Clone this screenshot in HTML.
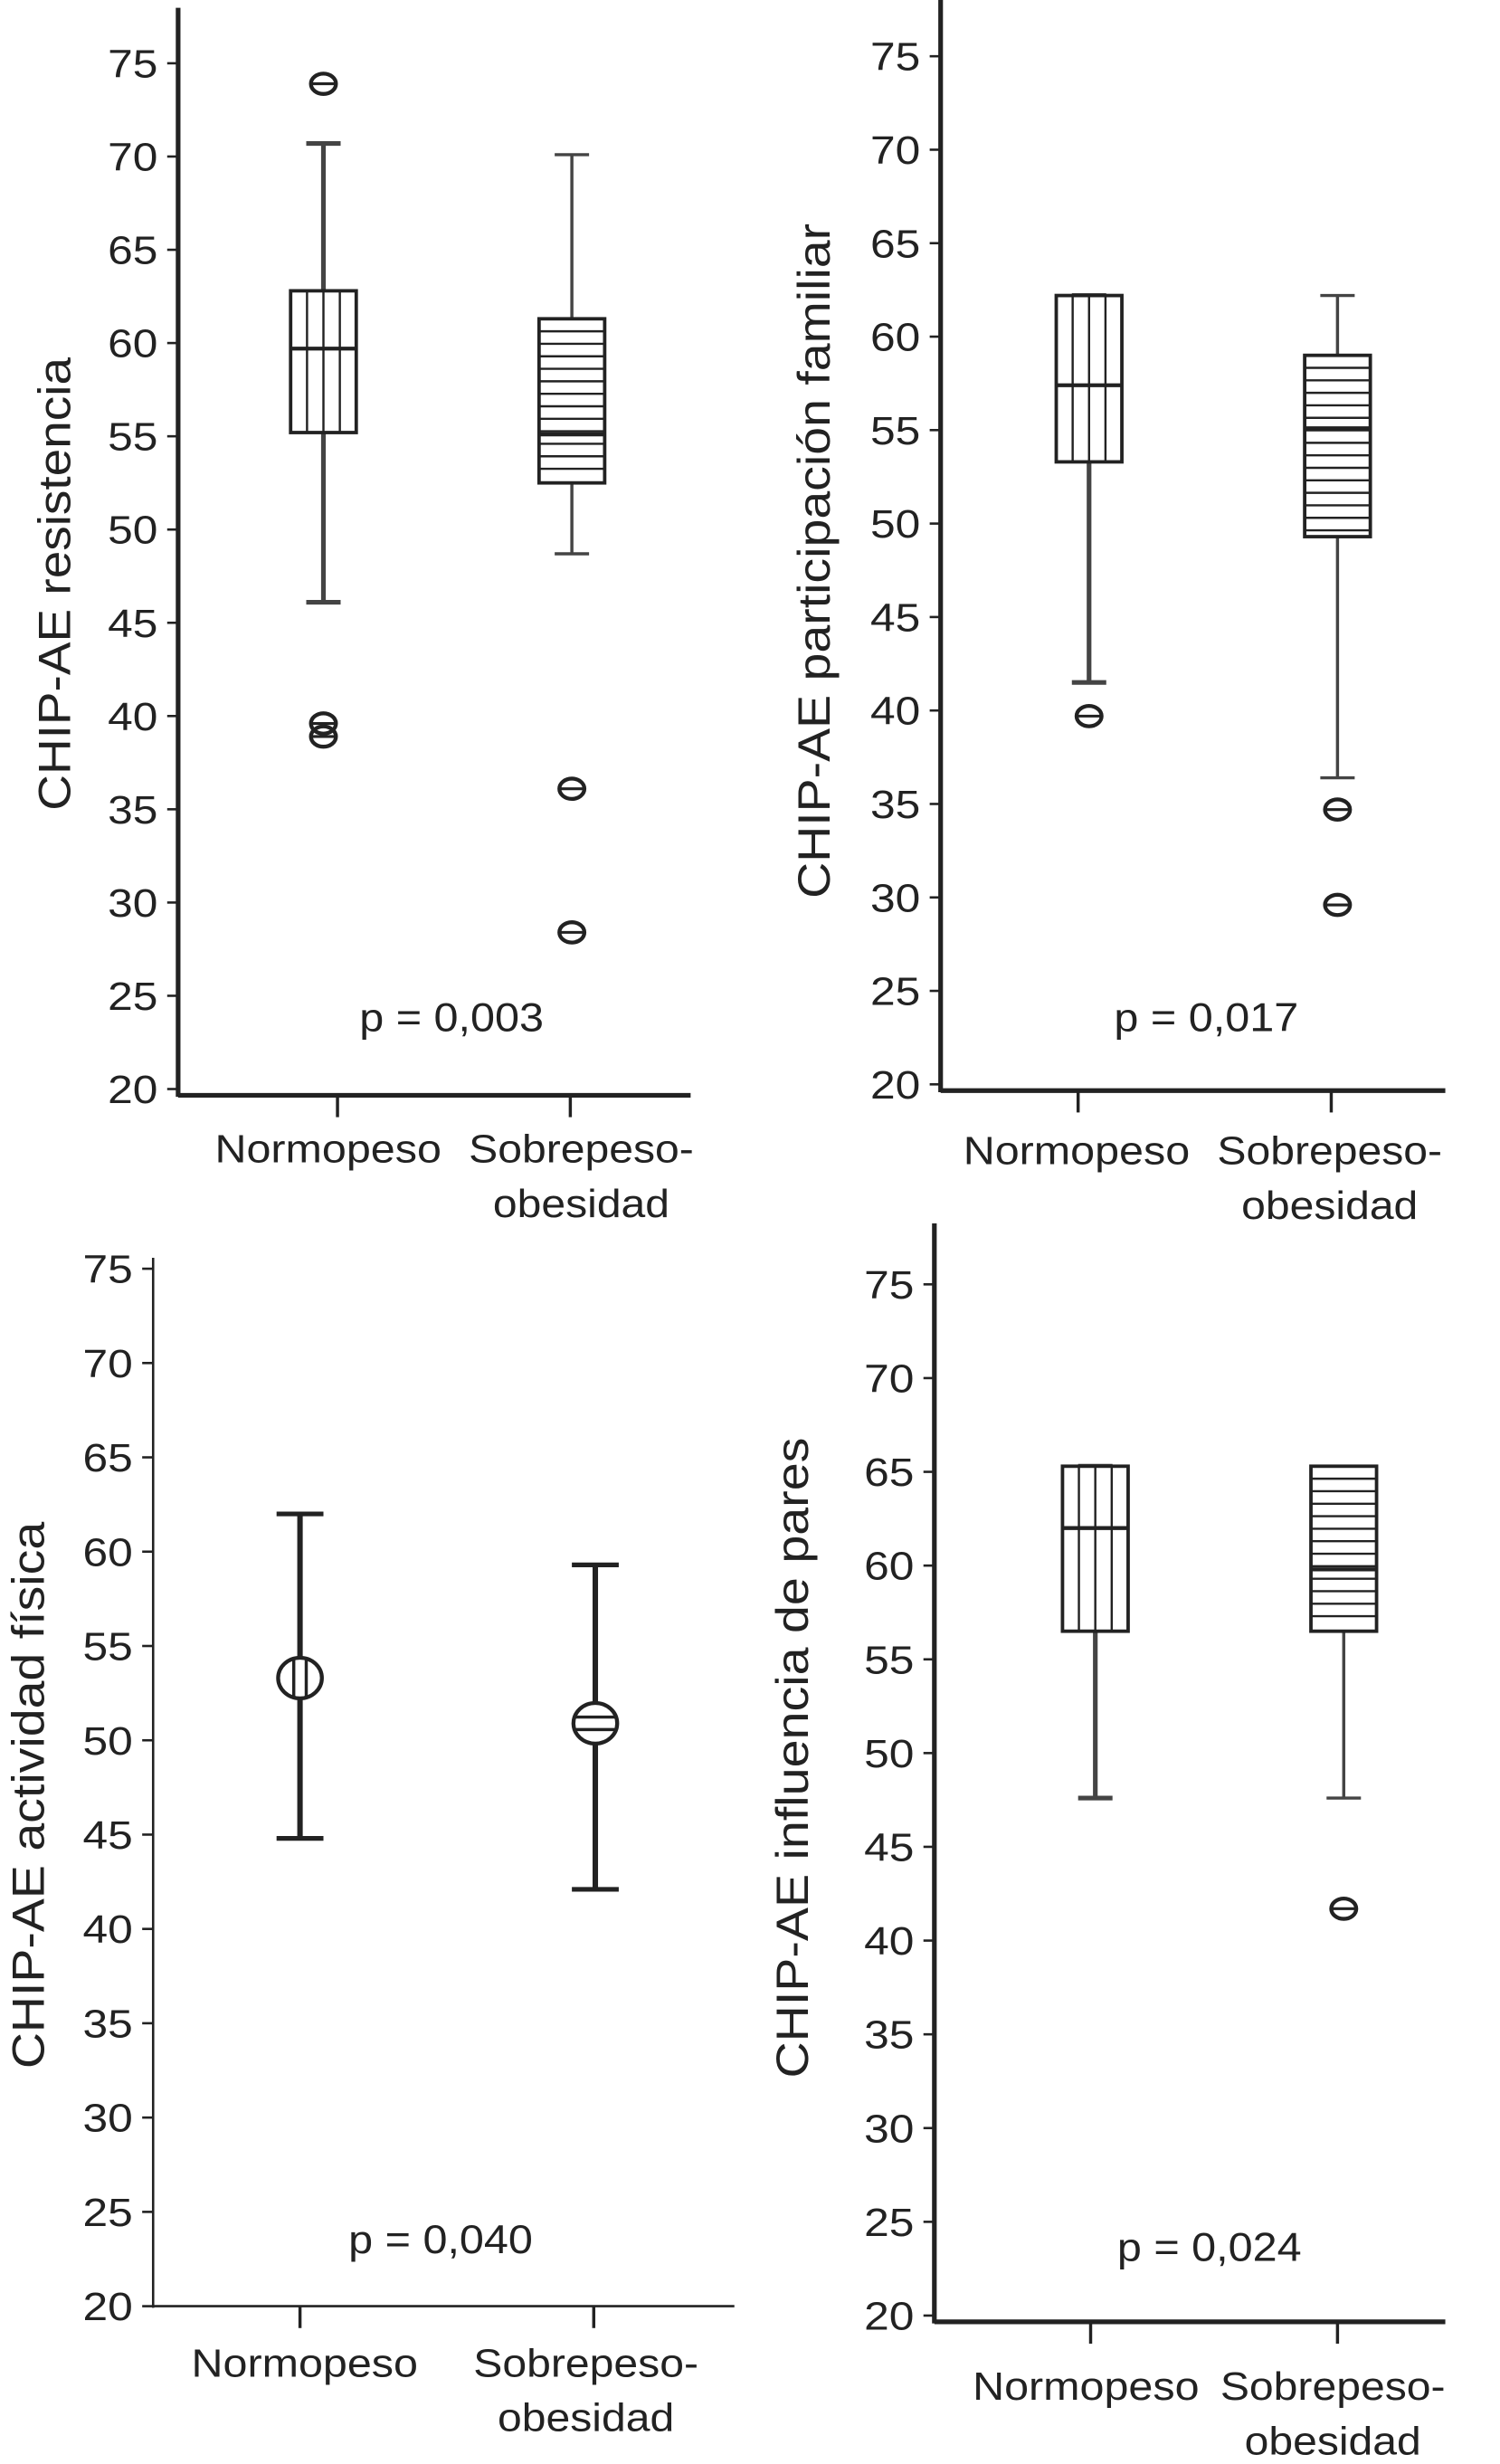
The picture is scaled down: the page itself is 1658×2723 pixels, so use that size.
<!DOCTYPE html>
<html><head><meta charset="utf-8"><style>
html,body{margin:0;padding:0;background:#fff;}
svg{display:block;}
text{font-family:"Liberation Sans",sans-serif;fill:#222;}
</style></head><body>
<svg id="fig" width="1658" height="2723" viewBox="0 0 960 1577" preserveAspectRatio="none" xmlns="http://www.w3.org/2000/svg"></svg>
<script>
const categories = ["Normopeso", "Sobrepeso-obesidad"];
const tickValues = [20,25,30,35,40,45,50,55,60,65,70,75];
// panel 1 resistencia (box: whiskerLow, q1, median, q3, whiskerHigh)
const resistBox1 = [46.1, 55.2, 59.7, 62.8, 70.7];
const resistBox2 = [48.7, 52.5, 55.1, 61.3, 70.1];
const resistOut1 = [73.9, 39.6, 38.9];
const resistOut2 = [36.1, 28.4];
// panel 2 participacion familiar
const famBox1 = [41.5, 53.3, 57.4, 62.2, 62.2];
const famBox2 = [36.4, 49.3, 55.1, 59.0, 62.2];
const famOut1 = [39.7];
const famOut2 = [34.7, 29.6];
// panel 3 actividad fisica (low, mean, high)
const actErr1 = [44.8, 53.3, 62.0];
const actErr2 = [42.1, 50.9, 59.3];
// panel 4 influencia de pares
const paresBox1 = [47.6, 56.5, 62.0, 65.3, 65.3];
const paresBox2 = [47.6, 56.5, 59.8, 65.3, 65.3];
const paresOut1 = [];
const paresOut2 = [41.7];
const pValues = ["p = 0,003", "p = 0,017", "p = 0,040", "p = 0,024"];
const yTitles = ["CHIP-AE resistencia", "CHIP-AE participación familiar", "CHIP-AE actividad física", "CHIP-AE influencia de pares"];

const NS = "http://www.w3.org/2000/svg";
const svg = document.getElementById('fig');
function mk(tag, attrs, parent){
  const e = document.createElementNS(NS, tag);
  for (const k in attrs) e.setAttribute(k, attrs[k]);
  (parent||svg).appendChild(e);
  return e;
}

const panels = [
  {ax:114, top:5, xEnd:442, y75:40.5, y20:697, axOff:4, cx:[207,366], tx:[216,365], lx:[210,372], titleX:35, titleLen:290, titleOff:5, pX:289, pY:660, lblY:744, type:'box', boxes:[resistBox1,resistBox2], outs:[resistOut1,resistOut2], sw:3},
  {ax:602, top:0, xEnd:925, y75:36, y20:694, axOff:4, cx:[697,856], tx:[690,852], lx:[689,851], titleX:521, titleLen:432, titleOff:-6, pX:772, pY:660, lblY:745, type:'box', boxes:[famBox1,famBox2], outs:[famOut1,famOut2], sw:3},
  {ax:98, top:805, xEnd:470, y75:812, y20:1476, axOff:0, cx:[192,381], tx:[192,380], lx:[195,375], titleX:18, titleLen:350, titleOff:5, pX:282, pY:1442, lblY:1521, type:'err', errs:[actErr1,actErr2], sw:1.5},
  {ax:598, top:783, xEnd:925, y75:822, y20:1482, axOff:4, cx:[701,860], tx:[698,856], lx:[695,853], titleX:507, titleLen:410, titleOff:-27, pX:774, pY:1447, lblY:1536, type:'box', boxes:[paresBox1,paresBox2], outs:[paresOut1,paresOut2], sw:3}
];

panels.forEach((p, pi) => {
  const g = mk('g', {});
  
  
  const y = v => p.y20 + (v - 20) * (p.y75 - p.y20) / 55;
  const xy = p.y20 + p.axOff;
  const yAxis = mk('line', {x1:p.ax, y1:p.top, x2:p.ax, y2:xy+1, stroke:'#222', 'stroke-width':p.sw}, g);
  
  
  const xAxis = mk('line', {x1:p.ax, y1:xy, x2:p.xEnd, y2:xy, stroke:'#222', 'stroke-width':p.sw}, g);
  
  
  tickValues.forEach(v => {
    mk('line', {x1:p.ax-7, y1:y(v), x2:p.ax, y2:y(v), stroke:'#222', 'stroke-width':1.5}, g);
    const t = mk('text', {x:p.ax-13, y:y(v)+9, 'text-anchor':'end', 'font-size':25, textLength:32, lengthAdjust:'spacingAndGlyphs'}, g);
    t.textContent = v;
    
    
  });
  const title = mk('text', {x:0, y:0, transform:`translate(${p.titleX+10},${(p.y75+p.y20)/2 + p.titleOff}) rotate(-90)`, 'text-anchor':'middle', 'font-size':29, textLength:p.titleLen, lengthAdjust:'spacingAndGlyphs'}, g);
  title.textContent = yTitles[pi];
  
  
  p.cx.forEach((cx, ci) => {
    const tx = p.tx[ci];
    const lx = p.lx[ci];
    mk('line', {x1:tx, y1:xy, x2:tx, y2:xy+14, stroke:'#222', 'stroke-width':2}, g);
    if (ci === 0) {
      const l = mk('text', {x:lx, y:p.lblY, 'text-anchor':'middle', 'font-size':25, textLength:145, lengthAdjust:'spacingAndGlyphs'}, g);
      l.textContent = categories[0];
      
      
    } else {
      const l = mk('text', {x:lx, y:p.lblY, 'text-anchor':'middle', 'font-size':25, textLength:144, lengthAdjust:'spacingAndGlyphs'}, g);
      l.textContent = 'Sobrepeso-';
      
      
      const l2 = mk('text', {x:lx, y:p.lblY+35, 'text-anchor':'middle', 'font-size':25, textLength:113, lengthAdjust:'spacingAndGlyphs'}, g);
      l2.textContent = 'obesidad';
      
      
    }
    if (p.type === 'box') {
      const b = p.boxes[ci];
      const hw = 21;
      const stroke = ci===0 ? 3 : 2;
      mk('line', {x1:cx, y1:y(b[0]), x2:cx, y2:y(b[1]), stroke:'#444', 'stroke-width':stroke}, g);
      mk('line', {x1:cx, y1:y(b[3]), x2:cx, y2:y(b[4]), stroke:'#444', 'stroke-width':stroke}, g);
      mk('line', {x1:cx-11, y1:y(b[0]), x2:cx+11, y2:y(b[0]), stroke:'#444', 'stroke-width':stroke}, g);
      mk('line', {x1:cx-11, y1:y(b[4]), x2:cx+11, y2:y(b[4]), stroke:'#444', 'stroke-width':stroke}, g);
      const rect = mk('rect', {x:cx-hw, y:y(b[3]), width:2*hw, height:y(b[1])-y(b[3]), fill:'#fff', stroke:'#222', 'stroke-width':2.2}, g);
      
      
      if (ci === 0) {
        [-10.5, 0, 10.5].forEach(dx => mk('line', {x1:cx+dx, y1:y(b[3]), x2:cx+dx, y2:y(b[1]), stroke:'#222', 'stroke-width':1.4}, g));
      } else {
        for (let yy = y(b[3]) + 8; yy < y(b[1]) - 3; yy += 8)
          mk('line', {x1:cx-hw, y1:yy, x2:cx+hw, y2:yy, stroke:'#222', 'stroke-width':1.4}, g);
      }
      const med = mk('line', {x1:cx-hw, y1:y(b[2]), x2:cx+hw, y2:y(b[2]), stroke:'#222', 'stroke-width':2.5}, g);
      
      
      p.outs[ci].forEach(v => {
        const o = mk('ellipse', {cx:cx, cy:y(v), rx:8, ry:6.5, fill:'none', stroke:'#222', 'stroke-width':2.5}, g);
        
        
        mk('line', {x1:cx-7, y1:y(v), x2:cx+7, y2:y(v), stroke:'#222', 'stroke-width':1.8}, g);
      });
    } else {
      const e = p.errs[ci];
      mk('line', {x1:cx, y1:y(e[0]), x2:cx, y2:y(e[2]), stroke:'#222', 'stroke-width':3.5}, g);
      mk('line', {x1:cx-15, y1:y(e[0]), x2:cx+15, y2:y(e[0]), stroke:'#222', 'stroke-width':3}, g);
      mk('line', {x1:cx-15, y1:y(e[2]), x2:cx+15, y2:y(e[2]), stroke:'#222', 'stroke-width':3}, g);
      const c = mk('ellipse', {cx:cx, cy:y(e[1]), rx:14, ry:13, fill:'#fff', stroke:'#222', 'stroke-width':2.5}, g);
      
      
      if (ci === 0) {
        [-4, 4].forEach(dx => mk('line', {x1:cx+dx, y1:y(e[1])-12, x2:cx+dx, y2:y(e[1])+12, stroke:'#222', 'stroke-width':2}, g));
      } else {
        [-4, 4].forEach(dy => mk('line', {x1:cx-13, y1:y(e[1])+dy, x2:cx+13, y2:y(e[1])+dy, stroke:'#222', 'stroke-width':2}, g));
      }
    }
  });
  const pt = mk('text', {x:p.pX, y:p.pY, 'text-anchor':'middle', 'font-size':26, textLength:118, lengthAdjust:'spacingAndGlyphs'}, g);
  pt.textContent = pValues[pi];
  
  
});
</script>
</body></html>
